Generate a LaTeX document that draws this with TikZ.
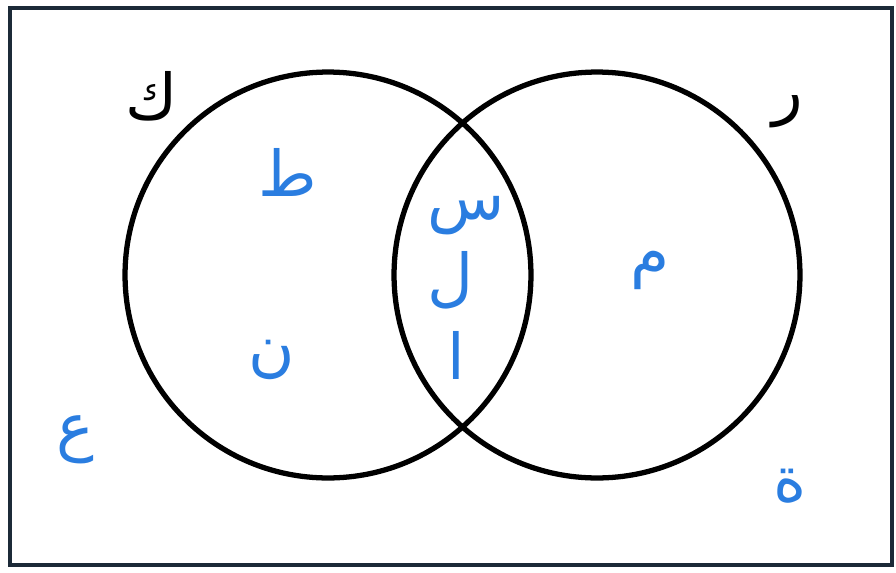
\documentclass[tikz,border=0pt]{standalone}
\usepackage{fontspec}
\newfontfamily\arabicfont[Script=Arabic]{DejaVu Sans}
\TeXXeTstate=1
\usetikzlibrary{positioning}

\definecolor{framenavy}{HTML}{1C2A38}
\definecolor{penblue}{HTML}{2A7DE0}

\begin{document}
\begin{tikzpicture}[
    x=0.02cm, y=-0.02cm,
    setcircle/.style={circle, draw=black, line width=3pt, minimum size=8.12cm, inner sep=0pt},
    setname/.style={font=\fontsize{36}{42}\selectfont\arabicfont, text=black, inner sep=0pt},
    element/.style={font=\fontsize{36}{42}\selectfont\arabicfont, text=penblue, inner sep=0pt},
  ]
  \useasboundingbox (0,0) rectangle (896,572);
  \draw[framenavy, line width=2.8pt] (10,8) rectangle (892,565);

  % the two sets
  \node[setcircle] (setK) at (328,275) {};
  \node[setcircle] (setR) at (597,275) {};
  \node[setname] (nameK) at (152,96)  {\beginR ك\endR};
  \node[setname] (nameR) at (788,112) {\beginR ر\endR};

  % only in K
  \node[element] (eTa)  at (288,172) {\beginR ط\endR};
  \node[element] (eNun) at (272,360) {\beginR ن\endR};

  % in both
  \node[element] (eSin) at (466,216) {\beginR س\endR};
  \node[element] (eLam) at (450,280) {\beginR ل\endR};
  \node[element] (eAlif) at (456,355) {\beginR ا\endR};

  % only in R
  \node[element] (eMim) at (650,270) {\beginR م\endR};

  % outside both
  \node[element] (eAin) at (75,440) {\beginR ع\endR};
  \node[element] (eTaa) at (790,486) {\beginR ة\endR};
\end{tikzpicture}
\end{document}
